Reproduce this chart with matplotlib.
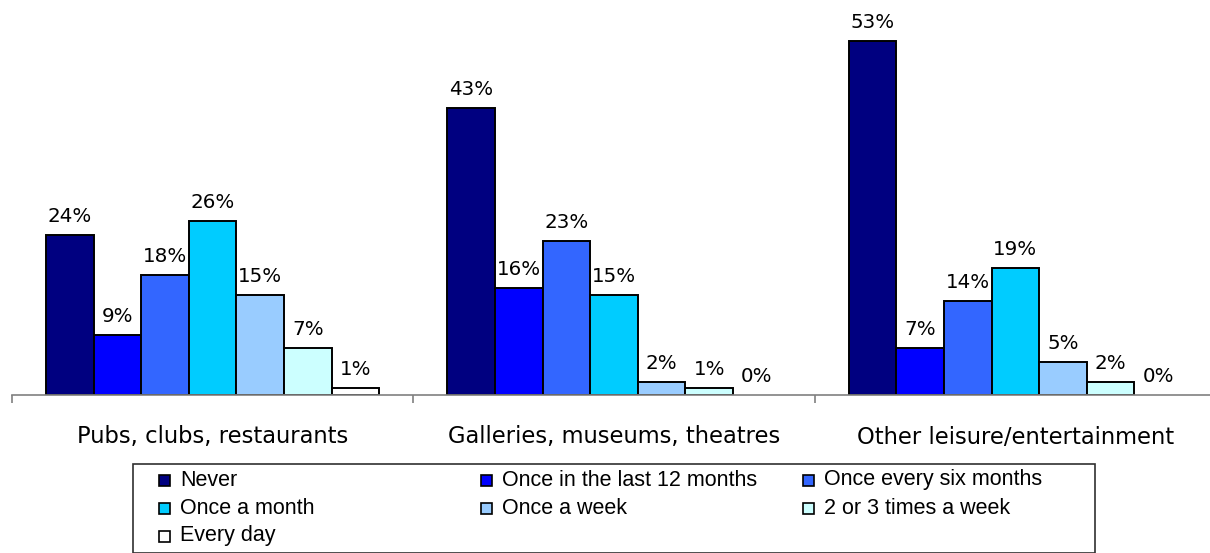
import matplotlib
matplotlib.use("Agg")
import matplotlib.pyplot as plt
from matplotlib.patches import Rectangle
import numpy as np

# Survey data: share of respondents by visit frequency (%)
categories = ["Pubs, clubs, restaurants", "Galleries, museums, theatres", "Other leisure/entertainment"]
frequencies = ["Never", "Once in the last 12 months", "Once every six months",
               "Once a month", "Once a week", "2 or 3 times a week", "Every day"]
never = [24, 43, 53]
last_12_months = [9, 16, 7]
six_months = [18, 23, 14]
monthly = [26, 15, 19]
weekly = [15, 2, 5]
two_three_weekly = [7, 1, 2]
daily = [1, 0, 0]
series = [never, last_12_months, six_months, monthly, weekly, two_three_weekly, daily]
colors = ["#000080", "#0000FF", "#3366FF", "#00CCFF", "#99CCFF", "#CCFFFF", "#FFFFFF"]

W, H = 1210, 553
fig = plt.figure(figsize=(W / 100, H / 100), dpi=100)
ax = fig.add_axes([12 / W, 1 - 395 / H, 1204 / W, 395 / H])

x = np.arange(len(categories))
bw = 0.1186
n = len(series)
for i, (vals, col) in enumerate(zip(series, colors)):
    pos = x + (i - (n - 1) / 2) * bw
    edges = ["black" if v > 0 else "none" for v in vals]
    bars = ax.bar(pos, vals, width=bw, color=col, edgecolor=edges, linewidth=1.4, zorder=3)
    for b, v in zip(bars, vals):
        ax.annotate(f"{v}%", (b.get_x() + b.get_width() / 2, v), xytext=(0, 6.5),
                    textcoords="offset points", ha="center", va="bottom",
                    fontsize=14.3, family="DejaVu Sans", color="black")

ax.set_xlim(-0.5, 2.5)
ax.set_ylim(0, 395 / 6.68)
for s in ["top", "right", "left"]:
    ax.spines[s].set_visible(False)
ax.spines["bottom"].set_color("#808080")
ax.spines["bottom"].set_linewidth(1.2)
ax.spines["bottom"].set_zorder(4)
ax.set_yticks([])
ax.set_xticks([-0.5, 0.5, 1.5, 2.5])
ax.set_xticklabels([])
ax.tick_params(axis="x", direction="out", length=6, width=1.2, color="#808080")
for xi, name in zip(x, categories):
    ax.text(xi, -42 / 6.68, name, ha="center", va="center", fontsize=16.3,
            family="DejaVu Sans", color="black")

# Legend drawn as a boxed three-column grid
fig.patches.append(Rectangle((133 / W, 1 - 553 / H), (1095 - 133) / W, (553 - 464) / H,
                             transform=fig.transFigure, facecolor="white",
                             edgecolor="#303030", linewidth=1.2))
col_x = [159, 481, 803]
row_y = [480, 508, 536]
sq = 11
for k, (label, col) in enumerate(zip(frequencies, colors)):
    r, c = divmod(k, 3)
    cx, cy = col_x[c], row_y[r]
    fig.patches.append(Rectangle((cx / W, 1 - (cy + sq / 2) / H), sq / W, sq / H,
                                 transform=fig.transFigure, facecolor=col,
                                 edgecolor="black", linewidth=1.2))
    fig.text((cx + 21) / W, 1 - cy / H, label, ha="left", va="center",
             fontsize=15.5, family="Liberation Sans", color="black")

fig.savefig("out.png", dpi=100)
